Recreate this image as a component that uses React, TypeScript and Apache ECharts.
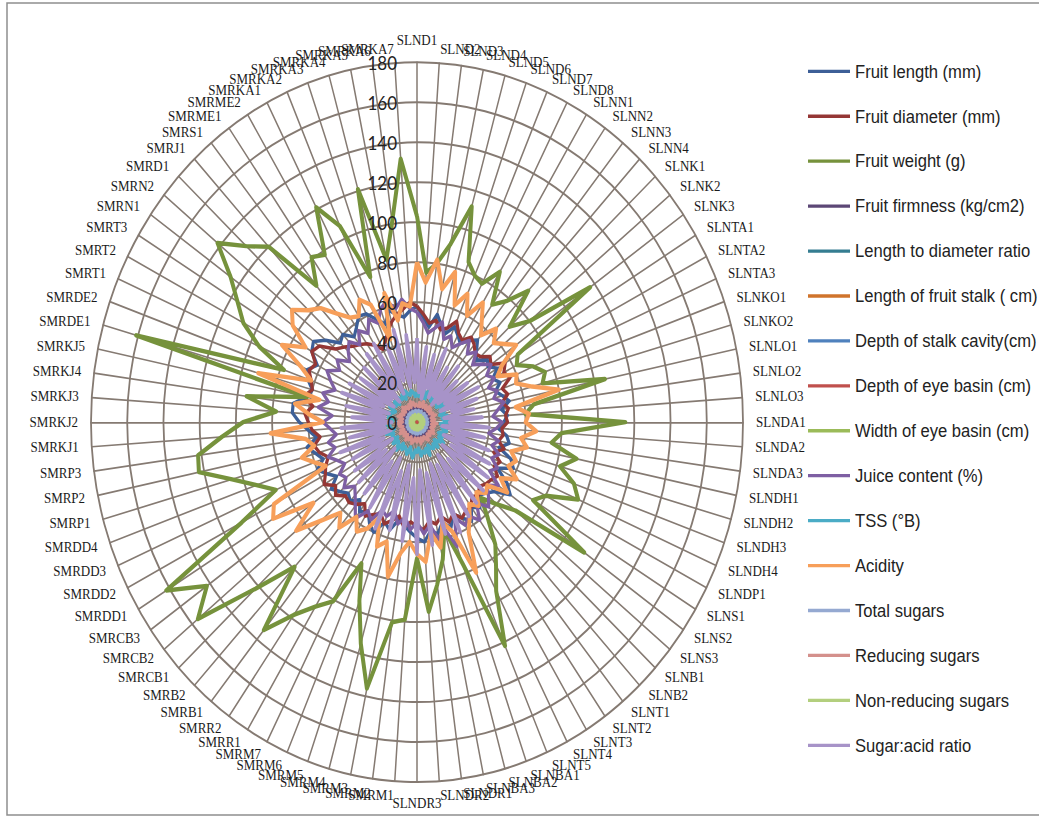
import React, { useEffect, useRef } from 'react';
import * as echarts from 'echarts';

const categories = [
  'SLND1','SLND2','SLND3','SLND4','SLND5','SLND6','SLND7','SLND8',
  'SLNN1','SLNN2','SLNN3','SLNN4','SLNK1','SLNK2','SLNK3',
  'SLNTA1','SLNTA2','SLNTA3','SLNKO1','SLNKO2','SLNLO1','SLNLO2','SLNLO3',
  'SLNDA1','SLNDA2','SLNDA3','SLNDH1','SLNDH2','SLNDH3','SLNDH4','SLNDP1',
  'SLNS1','SLNS2','SLNS3','SLNB1','SLNB2','SLNT1','SLNT2','SLNT3','SLNT4','SLNT5',
  'SLNBA1','SLNBA2','SLNBA3','SLNDR1','SLNDR2','SLNDR3',
  'SMRM1','SMRM2','SMRM3','SMRM4','SMRM5','SMRM6','SMRM7','SMRR1','SMRR2',
  'SMRB1','SMRB2','SMRCB1','SMRCB2','SMRCB3','SMRDD1','SMRDD2','SMRDD3','SMRDD4',
  'SMRP1','SMRP2','SMRP3','SMRKJ1','SMRKJ2','SMRKJ3','SMRKJ4','SMRKJ5',
  'SMRDE1','SMRDE2','SMRT1','SMRT2','SMRT3','SMRN1','SMRN2','SMRD1','SMRJ1','SMRS1',
  'SMRME1','SMRME2','SMRKA1','SMRKA2','SMRKA3','SMRKA4','SMRKA5','SMRKA6','SMRKA7'
];

const seriesNames = [
  'Fruit length (mm)', 'Fruit diameter (mm)', 'Fruit weight (g)', 'Fruit firmness (kg/cm2)',
  'Length to diameter ratio', 'Length of fruit stalk ( cm)', 'Depth of stalk cavity(cm)',
  'Depth of eye basin (cm)', 'Width of eye basin (cm)', 'Juice content (%)', 'TSS (°B)',
  'Acidity', 'Total sugars', 'Reducing sugars', 'Non-reducing sugars', 'Sugar:acid ratio'
];

const seriesColors = [
  '#3D5F97', '#953735', '#76923C', '#5C4776', '#357D91', '#D0742C', '#4F81BD', '#C0504D',
  '#9BBB59', '#7E5FA3', '#4BACC6', '#F79F5A', '#95A9D1', '#D4908C', '#B3CF7E', '#A793C8'
];

const radiusMin = 0;
const radiusMax = 180;
const radiusStep = 20;

const fruitLength = [
  58,52,48,55,50,47,52,49,46,50,
  53,48,45,50,48,52,47,50,46,49,
  52,47,50,48,45,50,52,47,55,58,
  50,58,63,55,52,50,55,52,58,54,
  50,56,52,57,55,60,58,55,52,50,
  56,53,60,57,52,55,50,54,52,55,
  58,52,56,60,55,58,62,56,60,65,
  69,69,62,60,64,66,62,68,70,65,
  58,60,55,58,62,61,56,52,58,55,
  53,56
];
const fruitDiameter = [
  58,54,50,52,48,50,55,50,48,52,
  50,47,48,52,50,57,54,56,50,52,
  48,51,49,50,47,48,46,50,45,50,
  48,52,50,49,47,50,48,52,52,54,
  50,53,49,52,50,54,52,50,53,48,
  51,54,50,52,55,50,53,55,54,58,
  55,60,57,55,52,56,58,54,58,60,
  62,58,64,60,62,65,63,68,66,58,
  55,52,50,48,45,41,44,48,52,55,
  57,60
];
const fruitWeight = [
  103,75,80,91,112,85,80,78,88,72,
  78,90,70,80,117,65,62,70,75,72,
  106,65,60,115,80,75,90,82,92,97,
  80,75,113,70,60,52,62,75,84,95,
  122,75,56,70,82,95,68,99,101,136,
  115,95,77,101,108,118,134,99,122,156,
  142,162,109,85,94,106,123,122,108,96,
  78,95,62,161,78,95,108,116,126,142,
  129,120,88,101,98,121,107,77,121,83,
  101,132
];
const fruitFirmness = [
  8,7,9,8,6,9,7,8,10,7,
  8,9,7,8,6,9,8,7,9,8,
  7,9,8,6,8,10,7,8,9,7,
  8,9,7,8,10,8,7,9,8,7,
  9,8,10,7,8,9,7,8,6,9,
  8,7,9,8,10,7,8,9,7,8,
  9,7,8,10,8,7,9,8,7,9,
  8,7,9,8,6,9,8,7,10,8,
  7,9,8,7,9,8,10,7,8,9,
  7,8
];
const ldRatio = [
  1.1,1.0,1.2,0.9,1.1,1.0,1.2,1.1,0.9,1.0,
  1.1,1.2,1.0,0.9,1.1,1.0,1.2,1.1,1.0,0.9,
  1.1,1.0,1.2,1.1,0.9,1.0,1.1,1.2,1.0,1.1,
  0.9,1.0,1.1,1.2,1.0,1.1,0.9,1.0,1.2,1.1,
  1.0,1.1,0.9,1.0,1.2,1.1,1.0,0.9,1.1,1.2,
  1.0,1.1,1.0,0.9,1.2,1.1,1.0,1.1,0.9,1.0,
  1.2,1.1,1.0,1.1,0.9,1.0,1.2,1.1,1.0,0.9,
  1.1,1.0,1.2,1.1,1.0,0.9,1.1,1.0,1.2,1.1,
  0.9,1.0,1.1,1.2,1.0,1.1,0.9,1.0,1.2,1.1,
  1.0,1.1
];
const stalkLength = [
  2.5,2.2,2.8,2.4,3.0,2.6,2.3,2.9,2.5,2.7,
  2.4,2.8,2.6,2.2,3.1,2.5,2.7,2.3,2.9,2.6,
  2.4,2.8,2.5,3.0,2.6,2.3,2.7,2.9,2.4,2.6,
  2.8,2.5,2.2,2.9,2.7,2.4,3.0,2.6,2.5,2.8,
  2.3,2.7,2.6,2.9,2.4,2.5,2.8,2.2,2.7,3.0,
  2.6,2.4,2.9,2.5,2.7,2.3,2.8,2.6,3.1,2.4,
  2.5,2.9,2.7,2.2,2.6,2.8,2.4,3.0,2.5,2.7,
  2.3,2.6,2.9,2.5,2.8,2.4,2.7,3.0,2.6,2.2,
  2.8,2.5,2.9,2.4,2.7,2.6,3.1,2.3,2.8,2.5,
  2.7,2.4
];
const stalkCavity = [
  1.2,1.0,1.4,1.1,1.3,0.9,1.2,1.5,1.1,1.3,
  1.0,1.2,1.4,1.1,1.3,1.2,0.9,1.4,1.1,1.2,
  1.3,1.0,1.2,1.5,1.1,1.3,1.2,1.0,1.4,1.1,
  1.2,1.3,0.9,1.2,1.4,1.1,1.3,1.2,1.0,1.4,
  1.1,1.2,1.3,1.5,1.0,1.2,1.4,1.1,1.3,1.2,
  0.9,1.3,1.1,1.4,1.2,1.0,1.3,1.2,1.5,1.1,
  1.2,1.4,1.0,1.3,1.1,1.2,1.4,0.9,1.2,1.3,
  1.1,1.4,1.2,1.0,1.3,1.2,1.5,1.1,1.2,1.3,
  1.0,1.2,1.4,1.1,1.3,1.2,0.9,1.4,1.2,1.1,
  1.3,1.2
];
const eyeBasinDepth = [
  0.7,0.6,0.8,0.7,0.5,0.8,0.6,0.7,0.9,0.6,
  0.7,0.8,0.6,0.7,0.5,0.8,0.7,0.6,0.9,0.7,
  0.6,0.8,0.7,0.5,0.7,0.8,0.6,0.9,0.7,0.6,
  0.8,0.7,0.6,0.7,0.9,0.5,0.7,0.8,0.6,0.7,
  0.8,0.6,0.7,0.9,0.7,0.6,0.8,0.5,0.7,0.8,
  0.6,0.7,0.8,0.7,0.6,0.9,0.7,0.6,0.8,0.7,
  0.5,0.8,0.7,0.6,0.9,0.7,0.8,0.6,0.7,0.8,
  0.7,0.6,0.9,0.7,0.5,0.8,0.7,0.6,0.8,0.7,
  0.9,0.6,0.7,0.8,0.6,0.7,0.9,0.7,0.6,0.8,
  0.7,0.6
];
const eyeBasinWidth = [
  2.0,1.8,2.2,1.9,2.1,1.7,2.3,2.0,1.8,2.2,
  1.9,2.1,2.0,1.6,2.2,1.9,2.4,2.0,1.8,2.1,
  2.2,1.9,2.0,2.3,1.8,2.1,1.9,2.2,2.0,1.7,
  2.1,2.3,1.9,2.0,2.2,1.8,2.1,2.0,2.4,1.9,
  2.0,2.2,1.8,2.1,1.9,2.3,2.0,1.7,2.2,2.1,
  1.9,2.0,2.3,1.8,2.1,2.2,1.9,2.0,1.8,2.4,
  2.1,1.9,2.2,2.0,1.7,2.1,2.3,1.9,2.0,2.2,
  1.8,2.1,2.0,2.3,1.9,2.2,1.8,2.0,2.1,1.9,
  2.4,2.0,1.8,2.2,2.1,1.9,2.3,2.0,1.8,2.1,
  2.0,2.2
];
const juiceContent = [
  55,50,45,48,52,44,47,42,46,50,
  44,48,42,46,50,45,48,43,47,44,
  49,45,42,47,44,40,46,43,48,45,
  50,47,55,50,54,58,52,60,55,58,
  52,66,55,60,52,56,50,54,48,52,
  46,50,48,55,52,59,54,50,47,52,
  48,50,45,48,52,47,50,45,48,52,
  47,55,50,54,48,52,56,50,54,48,
  52,55,50,56,52,58,54,60,63,58,
  62,57
];
const tss = [
  15,13,17,14,16,12,18,14,15,13,
  17,15,14,16,13,18,15,14,16,13,
  17,14,15,18,13,16,14,17,15,13,
  16,14,18,15,13,17,14,16,15,13,
  18,14,16,15,17,13,15,14,18,16,
  13,17,15,14,16,13,18,15,14,17,
  13,16,15,14,18,13,16,15,17,14,
  13,16,15,18,14,13,17,15,14,16,
  13,18,15,14,16,13,17,15,14,16,
  15,13
];
const acidity = [
  80,70,82,68,78,62,70,60,70,62,
  56,64,58,62,67,55,50,60,58,66,
  80,55,62,60,66,58,62,54,58,55,
  62,54,61,50,52,48,54,50,56,62,
  82,58,52,64,56,70,66,60,66,79,
  62,66,52,60,64,58,68,62,72,86,
  70,93,89,55,60,66,58,62,81,52,
  60,68,55,91,62,70,84,72,84,89,
  82,78,70,64,62,69,64,44,67,52,
  60,58
];
const totalSugars = [
  5,4,6,5,4,5,6,4,5,5,
  4,6,5,4,5,6,5,4,5,6,
  4,5,5,6,4,5,6,5,4,5,
  6,4,5,5,6,4,5,6,5,4,
  5,6,4,5,5,6,4,5,6,5,
  4,5,6,5,4,5,6,4,5,5,
  6,4,5,6,5,4,5,5,6,4,
  5,6,5,4,5,6,4,5,5,6,
  4,5,6,5,4,5,6,4,5,5,
  6,5
];
const reducingSugars = [
  9,8,10,8,9,11,8,9,10,8,
  9,11,8,10,9,8,10,9,11,8,
  9,10,8,9,11,8,10,9,8,10,
  9,11,8,9,10,8,9,11,10,8,
  9,10,8,11,9,8,10,9,8,10,
  11,9,8,10,9,11,8,9,10,8,
  9,11,8,10,9,8,10,9,11,8,
  10,9,8,11,9,10,8,9,10,8,
  11,9,10,8,9,10,8,11,9,10,
  8,9
];
const nonReducingSugars = [
  3,2,3,4,2,3,3,2,4,3,
  2,3,3,4,2,3,2,3,4,3,
  3,2,4,3,2,3,3,4,2,3,
  3,2,3,4,3,2,3,3,4,2,
  3,3,2,4,3,2,3,4,3,2,
  3,3,4,2,3,3,2,4,3,3,
  2,3,4,3,2,3,3,4,2,3,
  3,2,4,3,3,2,3,4,3,2,
  3,3,2,4,3,3,2,3,4,3,
  2,3
];
const sugarAcidRatio = [
  42,15,38,12,35,18,40,14,32,16,
  36,12,30,15,34,18,38,14,35,20,
  32,15,36,18,40,14,38,20,42,16,
  45,22,48,18,50,25,52,20,55,24,
  60,22,58,26,62,24,66,28,60,22,
  56,26,58,20,50,24,46,18,44,22,
  42,16,40,20,45,15,38,18,42,14,
  36,18,40,16,44,20,42,15,38,18,
  40,14,44,20,46,16,42,22,48,18,
  44,20
];

const seriesValues = [
  fruitLength, fruitDiameter, fruitWeight, fruitFirmness, ldRatio, stalkLength,
  stalkCavity, eyeBasinDepth, eyeBasinWidth, juiceContent, tss, acidity,
  totalSugars, reducingSugars, nonReducingSugars, sugarAcidRatio
];

const seriesWidths = [3.2, 3.2, 4, 3, 3, 3, 3, 3, 3, 3.2, 3.4, 4, 3, 3, 3, 3.6];

// ECharts places radar indicators anticlockwise; the reference runs clockwise.
function clockwise(a: any[]) {
  return [a[0], ...a.slice(1).reverse()];
}

const STRETCH = 1.104;

export default function App() {
  const ref = useRef<HTMLDivElement>(null);
  useEffect(() => {
    const chart = echarts.init(ref.current as HTMLDivElement, null, { renderer: 'svg' });
    const center = [417, 382.4];
    const radius = 326;
    const option: any = {
      animation: false,
      color: seriesColors,
      graphic: [
        {
          type: 'rect',
          z: -10,
          shape: { x: 7, y: 2.7, width: 1040, height: 735.5 },
          style: { fill: 'none', stroke: '#8e8e8e', lineWidth: 1.5 }
        }
      ],
      legend: {
        orient: 'vertical',
        left: 803,
        top: 50.6,
        icon: 'rect',
        itemWidth: 42,
        itemHeight: 3,
        itemGap: 22.7,
        textStyle: { fontFamily: 'Liberation Sans', fontSize: 16.6, color: '#222', lineHeight: 18 },
        data: seriesNames
      },
      radar: {
        center,
        radius,
        startAngle: 90,
        shape: 'circle',
        splitNumber: (radiusMax - radiusMin) / radiusStep,
        nameGap: 13,
        axisName: { color: '#1a1a1a', fontFamily: 'Liberation Serif', fontSize: 13 },
        splitLine: { lineStyle: { color: '#857a72', width: 1.8 } },
        splitArea: { show: false },
        axisLine: { lineStyle: { color: '#857a72', width: 1.5 } },
        indicator: clockwise(categories).map((n) => ({ name: n, min: radiusMin, max: radiusMax }))
      },
      polar: { center, radius, z: 5 },
      angleAxis: { type: 'value', show: false, startAngle: 90, min: 0, max: 360 },
      radiusAxis: {
        type: 'value',
        min: radiusMin,
        max: radiusMax,
        interval: radiusStep,
        z: 5,
        axisLine: { show: false },
        axisTick: { show: false },
        splitLine: { show: false },
        axisLabel: { fontFamily: 'Lato', fontSize: 17, color: '#222', margin: 20 }
      },
      series: seriesNames.map((name, i) => ({
        type: 'radar',
        name,
        symbol: 'none',
        z: 2,
        lineStyle: { width: seriesWidths[i], color: seriesColors[i] },
        itemStyle: { color: seriesColors[i] },
        data: [{ name, value: clockwise(seriesValues[i]) }]
      }))
    };
    chart.setOption(option);
    return () => chart.dispose();
  }, []);
  return (
    <div style={{ position: 'fixed', left: 0, top: 0, width: 1039, height: 817, background: '#fff', overflow: 'hidden' }}>
      <div
        ref={ref}
        style={{ width: 1039, height: 740, transform: `scaleY(${STRETCH})`, transformOrigin: '0 0' }}
      />
    </div>
  );
}
